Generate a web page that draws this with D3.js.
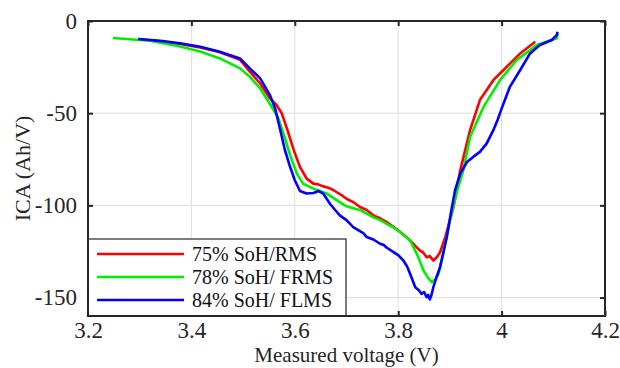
<!DOCTYPE html>
<html><head><meta charset="utf-8">
<script src="https://cdn.jsdelivr.net/npm/d3@7"></script>
<style>
html,body{margin:0;padding:0;background:#fff;}
svg{display:block;}
</style></head>
<body><svg id="c" width="620" height="368"></svg>
<script>
// ---- data: [voltage (V), ICA (Ah/V)] ----
const xTicks = [3.2, 3.4, 3.6, 3.8, 4.0, 4.2];
const xTickLabels = ["3.2", "3.4", "3.6", "3.8", "4", "4.2"];
const yTicks = [0, -50, -100, -150];
const yTickLabels = ["0", "-50", "-100", "-150"];
const seriesNames = ["75% SoH/RMS", "78% SoH/ FRMS", "84% SoH/ FLMS"];
const seriesColors = ["#ff0000", "#00ee00", "#0000ff"];

const red75 = [
 [3.297,-9.8],[3.350,-11.4],[3.378,-12.4],[3.417,-14.3],[3.455,-17.0],[3.494,-21.0],[3.513,-27.5],
 [3.533,-33.9],[3.552,-42.0],[3.565,-45.7],[3.575,-50.2],[3.587,-60.2],[3.597,-69.2],[3.610,-79.2],
 [3.623,-85.5],[3.636,-88.2],
 [3.645,-88.6],[3.655,-89.7],[3.665,-90.4],[3.675,-91.8],[3.688,-94.0],[3.700,-96.4],[3.713,-98.2],
 [3.726,-100.9],[3.739,-102.5],[3.752,-105.4],[3.765,-107.0],[3.778,-109.1],[3.790,-111.5],
 [3.804,-114.5],[3.815,-117.0],[3.823,-119.0],[3.833,-122.0],[3.842,-124.5],[3.848,-125.5],
 [3.855,-128.1],[3.861,-127.5],[3.868,-129.9],[3.875,-128.0],[3.881,-125.4],[3.891,-117.2],
 [3.907,-100.9],[3.920,-81.0],[3.939,-59.2],[3.958,-42.9],[3.984,-32.1],[4.010,-24.8],
 [4.036,-17.6],[4.065,-11.3]
];
const green78 = [
 [3.248,-9.2],[3.320,-10.7],[3.378,-13.8],[3.417,-16.5],[3.455,-20.3],[3.494,-25.7],[3.513,-30.3],
 [3.533,-36.6],[3.552,-45.0],[3.568,-52.5],[3.578,-61.0],[3.591,-72.8],[3.604,-82.8],[3.616,-88.2],
 [3.636,-90.9],[3.662,-93.6],
 [3.687,-98.2],[3.700,-100.5],[3.713,-101.5],[3.726,-102.5],[3.739,-104.5],[3.752,-106.5],
 [3.765,-108.0],[3.778,-110.0],[3.791,-112.0],[3.804,-114.5],[3.823,-119.0],[3.836,-126.3],
 [3.849,-135.3],[3.858,-139.5],[3.865,-141.7],[3.872,-140.0],[3.878,-137.1],[3.887,-126.3],
 [3.900,-108.2],[3.916,-90.1],[3.926,-81.0],[3.939,-62.9],[3.965,-46.6],[3.997,-32.1],
 [4.029,-21.2],[4.068,-13.0],[4.087,-11.3],[4.107,-9.4],[4.108,-7.0]
];
const blue84 = [
 [3.297,-9.8],[3.340,-10.8],[3.378,-12.1],[3.417,-14.0],[3.455,-16.7],[3.494,-20.3],[3.513,-25.7],
 [3.533,-31.1],[3.552,-40.2],[3.562,-47.5],[3.571,-58.0],[3.581,-70.1],[3.591,-79.2],[3.600,-86.4],
 [3.610,-92.2],[3.623,-93.6],
 [3.636,-93.3],[3.646,-92.2],[3.655,-93.6],[3.668,-99.1],[3.678,-102.5],[3.687,-105.4],
 [3.700,-108.0],[3.713,-111.8],[3.726,-114.0],[3.733,-115.2],[3.739,-117.2],[3.752,-118.5],
 [3.765,-120.8],[3.772,-121.5],[3.778,-123.0],[3.791,-125.4],[3.800,-127.0],[3.810,-129.9],
 [3.817,-133.0],[3.823,-137.1],[3.833,-144.4],[3.840,-146.0],[3.845,-148.0],[3.850,-147.0],
 [3.855,-149.8],[3.858,-148.5],[3.861,-151.0],[3.864,-149.0],[3.868,-144.4],[3.874,-139.0],
 [3.881,-133.5],[3.894,-117.2],[3.902,-104.0],[3.910,-91.8],[3.920,-82.8],[3.933,-76.5],
 [3.945,-73.7],[3.958,-71.0],[3.971,-66.5],[3.984,-59.2],[3.992,-53.8],[4.000,-47.5],
 [4.016,-35.7],[4.036,-26.6],[4.055,-17.6],[4.074,-13.0],[4.097,-10.3],[4.107,-7.6],[4.108,-5.8]
];
const seriesData = [red75, green78, blue84];

// ---- drawing ----
const FONT = "Liberation Serif, DejaVu Serif, serif";
const svg = d3.select("#c");
const L = 88, R = 605, T = 21, B = 316;
const x = d3.scaleLinear().domain([3.2, 4.2]).range([L, R]);
const y = d3.scaleLinear().domain([-160, 0]).range([B, T]);
const axisColor = "#262626";

// grid
const grid = svg.append("g");
grid.selectAll("line.gx").data(xTicks.slice(1, -1)).enter().append("line")
  .attr("x1", d => x(d)).attr("x2", d => x(d)).attr("y1", T).attr("y2", B)
  .attr("stroke", "#dedede").attr("stroke-width", 1);
grid.selectAll("line.gy").data(yTicks.slice(1)).enter().append("line")
  .attr("x1", L).attr("x2", R).attr("y1", d => y(d)).attr("y2", d => y(d))
  .attr("stroke", "#dedede").attr("stroke-width", 1);

// lines
const line = d3.line().x(d => x(d[0])).y(d => y(d[1]));
svg.append("clipPath").attr("id", "pc").append("rect")
  .attr("x", L).attr("y", T).attr("width", R - L).attr("height", B - T);
seriesData.forEach((s, i) => {
  svg.append("path").datum(s).attr("d", line).attr("fill", "none")
    .attr("stroke", seriesColors[i]).attr("stroke-width", 2.6)
    .attr("stroke-linejoin", "round").attr("clip-path", "url(#pc)");
});

// axes (ticks inward, all four sides)
const tickLen = 5;
const fs = 23;
const xAxB = svg.append("g").attr("transform", `translate(0,${B})`)
  .call(d3.axisBottom(x).tickValues(xTicks).tickFormat((d, i) => xTickLabels[i]).tickSizeInner(-tickLen).tickSizeOuter(0).tickPadding(6));
const xAxT = svg.append("g").attr("transform", `translate(0,${T})`)
  .call(d3.axisTop(x).tickValues(xTicks).tickFormat("").tickSizeInner(-tickLen).tickSizeOuter(0));
const yAxL = svg.append("g").attr("transform", `translate(${L},0)`)
  .call(d3.axisLeft(y).tickValues(yTicks).tickFormat((d, i) => yTickLabels[i]).tickSizeInner(-tickLen).tickSizeOuter(0).tickPadding(11));
const yAxR = svg.append("g").attr("transform", `translate(${R},0)`)
  .call(d3.axisRight(y).tickValues(yTicks).tickFormat("").tickSizeInner(-tickLen).tickSizeOuter(0));
[xAxB, xAxT, yAxL, yAxR].forEach(g => {
  g.attr("font-family", FONT).attr("font-size", fs);
  g.select(".domain").remove();
  g.selectAll(".tick line").attr("stroke", axisColor).attr("stroke-width", 2);
  g.selectAll(".tick text").attr("fill", "#262626").attr("font-family", FONT).attr("font-size", fs);
});

// axis labels
svg.append("text").attr("x", (L + R) / 2).attr("y", 362).attr("text-anchor", "middle")
  .attr("fill", "#262626").attr("font-family", FONT).attr("font-size", 21).text("Measured voltage (V)");
svg.append("text").attr("transform", `translate(30,${(T + B) / 2}) rotate(-90)`)
  .attr("text-anchor", "middle").attr("fill", "#262626").attr("font-family", FONT).attr("font-size", 22).text("ICA (Ah/V)");

// legend
const lg = svg.append("g");
lg.append("rect").attr("x", L).attr("y", 239).attr("width", 346 - L).attr("height", B - 239)
  .attr("fill", "#fff").attr("stroke", axisColor).attr("stroke-width", 1.2);
seriesNames.forEach((n, i) => {
  const yy = 254 + i * 23;
  lg.append("line").attr("x1", 97).attr("x2", 184).attr("y1", yy).attr("y2", yy)
    .attr("stroke", seriesColors[i]).attr("stroke-width", 2.6);
  lg.append("text").attr("x", 192).attr("y", yy + 7).attr("fill", "#111")
    .attr("font-family", FONT).attr("font-size", 20).text(n);
});
svg.append("rect").attr("x", L).attr("y", T).attr("width", R - L).attr("height", B - T)
  .attr("fill", "none").attr("stroke", axisColor).attr("stroke-width", 2);
</script></body></html>
